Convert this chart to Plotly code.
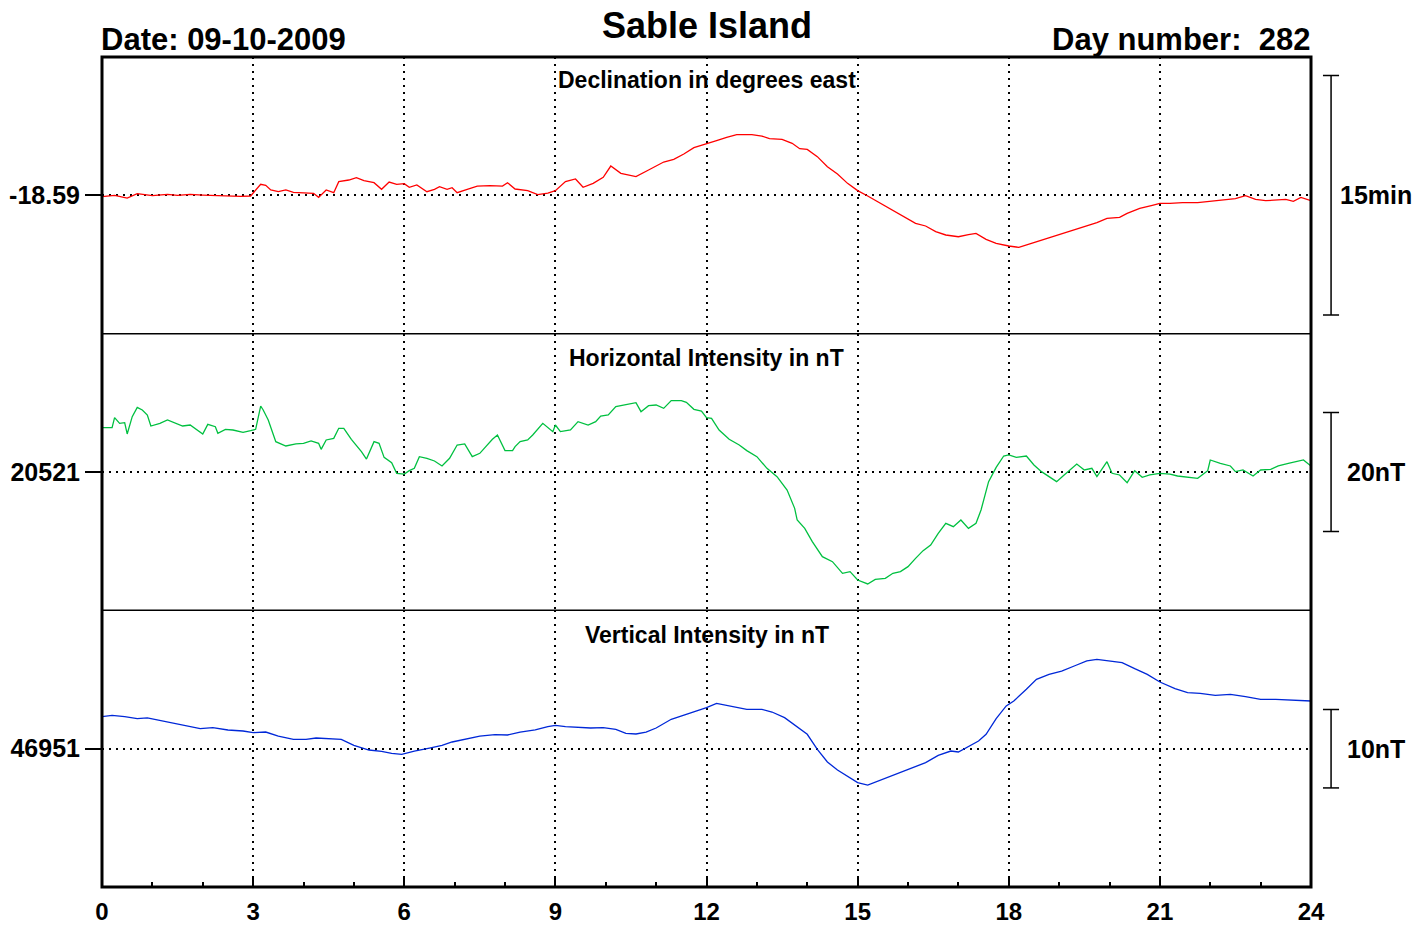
import plotly.graph_objects as go
from plotly.subplots import make_subplots

# ---------------- data ----------------
STATION = "Sable Island"
DATE_TEXT = "Date: 09-10-2009"
DAY_TEXT = "Day number:\u00a0 282"

HOUR_TICKS = [0, 3, 6, 9, 12, 15, 18, 21, 24]

D_BASE = -18.59
D_HOURS = [0.0, 0.25, 0.5, 0.7, 1.0, 1.3, 1.5, 1.75, 2.0, 2.25, 2.5, 2.75, 2.95, 3.05, 3.15, 3.25,
           3.35, 3.5, 3.65, 3.8, 4.0, 4.2, 4.3, 4.45, 4.6, 4.7, 4.9, 5.05, 5.2, 5.4, 5.55, 5.7,
           5.85, 6.0, 6.1, 6.25, 6.45, 6.6, 6.7, 6.85, 6.95, 7.05, 7.25, 7.45, 7.7, 7.95, 8.05,
           8.2, 8.45, 8.65, 8.85, 9.0, 9.2, 9.4, 9.55, 9.75, 9.95, 10.1, 10.3, 10.6, 10.85, 11.15,
           11.35, 11.55, 11.75, 12.0, 12.2, 12.4, 12.6, 12.9, 13.1, 13.25, 13.5, 13.7, 13.85, 14.0,
           14.2, 14.4, 14.6, 14.8, 15.0, 15.2, 15.45, 15.7, 15.9, 16.15, 16.35, 16.55, 16.75, 17.0,
           17.2, 17.35, 17.55, 17.75, 18.0, 18.2, 18.45, 18.7, 18.95, 19.2, 19.45, 19.75, 19.95,
           20.2, 20.35, 20.6, 20.85, 21.0, 21.2, 21.45, 21.75, 22.0, 22.25, 22.5, 22.7, 22.9, 23.1,
           23.3, 23.5, 23.65, 23.8, 24.0]
D_VALUES = [-18.5914, -18.5900, -18.5928, -18.5883, -18.5903, -18.5890, -18.5900, -18.5890,
            -18.5897, -18.5903, -18.5910, -18.5910, -18.5907, -18.5844, -18.5785, -18.5796,
            -18.5844, -18.5862, -18.5844, -18.5869, -18.5872, -18.5879, -18.5921, -18.5844,
            -18.5872, -18.5757, -18.5740, -18.5716, -18.5747, -18.5768, -18.5837, -18.5761,
            -18.5785, -18.5778, -18.5816, -18.5792, -18.5862, -18.5837, -18.5810, -18.5837,
            -18.5820, -18.5872, -18.5837, -18.5803, -18.5799, -18.5803, -18.5768, -18.5834,
            -18.5851, -18.5893, -18.5876, -18.5851, -18.5757, -18.5729, -18.5816, -18.5775,
            -18.5712, -18.5594, -18.5670, -18.5705, -18.5636, -18.5552, -18.5524, -18.5468,
            -18.5402, -18.5357, -18.5329, -18.5294, -18.5267, -18.5267, -18.5281, -18.5308,
            -18.5315, -18.5357, -18.5413, -18.5420, -18.5496, -18.5601, -18.5677, -18.5775,
            -18.5851, -18.5907, -18.5984, -18.6060, -18.6116, -18.6192, -18.6220, -18.6279,
            -18.6314, -18.6332, -18.6311, -18.6297, -18.6359, -18.6401, -18.6429, -18.6443,
            -18.6401, -18.6359, -18.6318, -18.6279, -18.6238, -18.6185, -18.6140, -18.6130,
            -18.6088, -18.6036, -18.6004, -18.5984, -18.5984, -18.5977, -18.5977, -18.5963,
            -18.5956, -18.5935, -18.5903, -18.5942, -18.5956, -18.5949, -18.5942, -18.5963,
            -18.5921, -18.5956]

H_BASE = 20521
H_HOURS = [0.0, 0.2, 0.25, 0.35, 0.45, 0.5, 0.6, 0.7, 0.8, 0.9, 0.97, 1.15, 1.3, 1.45, 1.6, 1.75,
           1.9, 2.0, 2.1, 2.25, 2.3, 2.45, 2.6, 2.8, 2.95, 3.05, 3.15, 3.2, 3.3, 3.45, 3.65, 3.85,
           4.0, 4.15, 4.3, 4.35, 4.45, 4.6, 4.7, 4.8, 4.95, 5.15, 5.25, 5.4, 5.5, 5.6, 5.75, 5.85,
           6.0, 6.1, 6.2, 6.3, 6.45, 6.6, 6.75, 6.9, 7.05, 7.2, 7.35, 7.5, 7.75, 7.85, 8.0, 8.15,
           8.2, 8.3, 8.45, 8.55, 8.75, 8.95, 9.0, 9.1, 9.3, 9.45, 9.65, 9.8, 9.9, 10.05, 10.2,
           10.45, 10.6, 10.7, 10.85, 11.0, 11.15, 11.3, 11.5, 11.6, 11.75, 11.9, 12.0, 12.1, 12.25,
           12.45, 12.65, 12.8, 13.0, 13.2, 13.4, 13.6, 13.75, 13.8, 13.95, 14.1, 14.3, 14.5, 14.7,
           14.85, 15.0, 15.2, 15.35, 15.55, 15.7, 15.85, 16.0, 16.15, 16.3, 16.45, 16.6, 16.75,
           16.9, 17.05, 17.2, 17.35, 17.45, 17.6, 17.75, 17.9, 18.0, 18.15, 18.35, 18.5, 18.65,
           18.8, 18.95, 19.1, 19.25, 19.35, 19.5, 19.65, 19.75, 19.95, 20.05, 20.2, 20.35, 20.5,
           20.65, 20.8, 21.0, 21.2, 21.35, 21.55, 21.75, 21.95, 22.0, 22.2, 22.4, 22.5, 22.65,
           22.85, 23.0, 23.2, 23.35, 23.55, 23.7, 23.85, 24.0]
H_VALUES = [20528.45, 20528.45, 20530.13, 20529.18, 20529.29, 20527.39, 20530.30, 20531.87,
            20531.42, 20530.58, 20528.73, 20529.18, 20529.74, 20529.18, 20528.73, 20528.90,
            20528.06, 20527.39, 20529.01, 20528.62, 20527.50, 20528.17, 20528.06, 20527.67,
            20527.95, 20528.17, 20532.09, 20531.42, 20529.74, 20526.10, 20525.37, 20525.71,
            20525.82, 20526.21, 20525.82, 20524.81, 20526.38, 20526.66, 20528.34, 20528.34,
            20526.49, 20524.42, 20523.18, 20526.10, 20525.82, 20523.46, 20522.57, 20520.78,
            20520.66, 20521.22, 20521.62, 20523.58, 20523.30, 20522.85, 20522.01, 20523.30,
            20525.54, 20525.71, 20523.58, 20524.14, 20526.49, 20527.22, 20524.59, 20524.59,
            20525.26, 20526.10, 20526.38, 20527.22, 20529.18, 20527.78, 20528.90, 20527.78,
            20528.06, 20529.46, 20528.90, 20529.46, 20530.41, 20530.58, 20531.98, 20532.37,
            20532.65, 20531.14, 20532.15, 20532.26, 20531.70, 20532.99, 20532.99, 20532.71,
            20531.53, 20531.25, 20530.13, 20530.02, 20528.06, 20526.49, 20525.54, 20524.59,
            20523.58, 20521.62, 20520.22, 20517.97, 20514.89, 20512.93, 20511.53, 20509.29,
            20506.77, 20505.93, 20503.97, 20504.25, 20502.85, 20502.18, 20502.96, 20503.13,
            20503.97, 20504.25, 20505.09, 20506.49, 20507.78, 20508.73, 20510.69, 20512.37,
            20511.81, 20512.93, 20511.53, 20512.37, 20514.61, 20519.38, 20521.78, 20523.69,
            20523.86, 20523.46, 20523.69, 20522.18, 20521.06, 20520.22, 20519.38, 20520.50,
            20521.62, 20522.34, 20521.34, 20521.62, 20520.22, 20522.74, 20520.78, 20520.50,
            20519.21, 20521.22, 20520.10, 20520.50, 20520.78, 20520.66, 20520.33, 20520.10,
            20519.94, 20521.22, 20523.02, 20522.46, 20522.01, 20521.06, 20521.34, 20520.33,
            20521.34, 20521.45, 20522.01, 20522.46, 20522.74, 20523.02, 20522.01]

Z_BASE = 46951
Z_HOURS = [0.0, 0.2, 0.45, 0.7, 0.9, 1.1, 1.4, 1.7, 1.95, 2.2, 2.5, 2.8, 3.0, 3.25, 3.5, 3.8,
           4.05, 4.25, 4.5, 4.75, 5.0, 5.3, 5.55, 5.75, 5.95, 6.2, 6.5, 6.75, 6.95, 7.2, 7.5, 7.8,
           8.05, 8.3, 8.6, 8.85, 9.0, 9.2, 9.45, 9.7, 9.95, 10.2, 10.4, 10.6, 10.8, 11.0, 11.3,
           11.6, 11.85, 12.0, 12.2, 12.45, 12.8, 13.1, 13.3, 13.55, 13.75, 14.0, 14.2, 14.4, 14.6,
           14.85, 15.0, 15.2, 15.4, 15.6, 15.85, 16.1, 16.35, 16.6, 16.85, 17.0, 17.15, 17.4,
           17.55, 17.75, 17.95, 18.1, 18.35, 18.55, 18.8, 19.05, 19.3, 19.55, 19.75, 20.0, 20.25,
           20.5, 20.75, 21.0, 21.3, 21.55, 21.8, 22.1, 22.4, 22.7, 23.0, 23.3, 23.6, 23.8, 24.0]
Z_VALUES = [46955.08, 46955.25, 46955.08, 46954.82, 46954.91, 46954.65, 46954.31, 46953.89,
            46953.55, 46953.68, 46953.38, 46953.25, 46953.04, 46953.12, 46952.61, 46952.19,
            46952.19, 46952.36, 46952.27, 46952.19, 46951.42, 46950.83, 46950.66, 46950.41,
            46950.28, 46950.70, 46951.08, 46951.42, 46951.85, 46952.19, 46952.61, 46952.78,
            46952.74, 46953.12, 46953.38, 46953.80, 46953.97, 46953.80, 46953.72, 46953.63,
            46953.68, 46953.46, 46952.95, 46952.87, 46953.12, 46953.63, 46954.74, 46955.37,
            46955.88, 46956.22, 46956.77, 46956.44, 46956.01, 46956.01, 46955.67, 46954.95,
            46953.97, 46952.83, 46950.92, 46949.30, 46948.28, 46947.31, 46946.67, 46946.37,
            46946.88, 46947.31, 46947.94, 46948.58, 46949.22, 46950.15, 46950.70, 46950.58,
            46951.13, 46951.98, 46952.83, 46954.82, 46956.44, 46957.07, 46958.56, 46959.83,
            46960.47, 46960.89, 46961.53, 46962.17, 46962.38, 46962.17, 46961.96, 46961.19,
            46960.47, 46959.49, 46958.64, 46958.13, 46958.05, 46957.79, 46957.92, 46957.62,
            46957.28, 46957.28, 46957.16, 46957.07, 46957.07]

PANEL_TITLES = ["Declination in degrees east", "Horizontal Intensity in nT", "Vertical Intensity in nT"]
BASE_LABELS = ["-18.59", "20521", "46951"]
SCALE_LABELS = ["15min", "20nT", "10nT"]
SCALE_SIZES = [0.25, 20, 10]          # degrees, nT, nT
HALF_RANGES = [0.1444, 23.25, 17.62]  # half height of each panel, in panel units

COLORS = ["#ff0000", "#00c040", "#0028d8"]

# ---------------- figure ----------------
FONT = "Liberation Sans, Arial, Helvetica, sans-serif"
fig = make_subplots(rows=3, cols=1, shared_xaxes=True, vertical_spacing=0)

series = [(D_HOURS, D_VALUES, D_BASE), (H_HOURS, H_VALUES, H_BASE), (Z_HOURS, Z_VALUES, Z_BASE)]
for i, (hx, hy, base) in enumerate(series):
    r = i + 1
    fig.add_trace(go.Scatter(x=hx, y=hy, mode="lines",
                             line=dict(color=COLORS[i], width=1.3),
                             showlegend=False, hoverinfo="skip"), row=r, col=1)
    fig.update_yaxes(row=r, col=1,
                     range=[base - HALF_RANGES[i], base + HALF_RANGES[i]],
                     tickvals=[base], ticktext=[BASE_LABELS[i]],
                     ticks="outside", ticklen=16, tickwidth=2, tickcolor="black",
                     tickfont=dict(family=FONT, size=25, color="black", weight="bold"),
                     showgrid=True, gridcolor="black", gridwidth=1.5, griddash="2px,5px",
                     zeroline=False, showline=False, fixedrange=True, automargin=False)
    fig.update_xaxes(row=r, col=1, range=[0, 24], tickvals=HOUR_TICKS,
                     showgrid=True, gridcolor="black", gridwidth=1.5, griddash="2px,5px",
                     zeroline=False, showline=False, automargin=False)

    # scale bar
    yref = "y" if r == 1 else f"y{r}"
    half = SCALE_SIZES[i] / 2
    bx, c0, c1 = 1.0166, 1.0099, 1.0232
    for (x0, y0, x1, y1) in [(bx, base - half, bx, base + half),
                             (c0, base + half, c1, base + half),
                             (c0, base - half, c1, base - half)]:
        fig.add_shape(type="line", xref="paper", yref=yref, x0=x0, y0=y0, x1=x1, y1=y1,
                      line=dict(color="black", width=1.5))
    fig.add_annotation(xref="paper", yref=yref, x=1.0538, y=base, text=SCALE_LABELS[i],
                       showarrow=False, xanchor="center", yanchor="middle",
                       font=dict(family=FONT, size=25, color="black", weight="bold"))

fig.update_xaxes(row=1, col=1, showticklabels=False, ticks="")
fig.update_xaxes(row=2, col=1, showticklabels=False, ticks="")
fig.update_xaxes(row=3, col=1, ticks="inside", ticklen=9, tickwidth=1.5, tickcolor="black",
                 ticktext=[str(h) for h in HOUR_TICKS], ticklabelstandoff=8,
                 tickfont=dict(family=FONT, size=24, color="black", weight="bold"),
                 minor=dict(dtick=1, tick0=0, ticks="inside", ticklen=5, tickwidth=1.5,
                            tickcolor="black", showgrid=False))

# frame and panel separators
fig.add_shape(type="rect", xref="paper", yref="paper", x0=0, y0=0, x1=1, y1=1,
              line=dict(color="black", width=3), layer="above")
for yy in [1 / 3, 2 / 3]:
    fig.add_shape(type="line", xref="paper", yref="paper", x0=0, y0=yy, x1=1, y1=yy,
                  line=dict(color="black", width=1.5), layer="above")

# panel titles
for t, yy in zip(PANEL_TITLES, [0.9723, 0.6373, 0.3036]):
    fig.add_annotation(xref="paper", yref="paper", x=0.5, y=yy, text=t, showarrow=False,
                       xanchor="center", yanchor="middle",
                       font=dict(family=FONT, size=23, color="black", weight="bold"))

# headers
fig.add_annotation(xref="paper", yref="paper", x=0.5, y=1.0374, text=STATION, showarrow=False,
                   xanchor="center", yanchor="middle", borderpad=0,
                   font=dict(family=FONT, size=36, color="black", weight="bold"))
fig.add_annotation(xref="paper", yref="paper", x=0.0, y=1.0205, text=DATE_TEXT, showarrow=False,
                   xanchor="left", yanchor="middle", xshift=-3,
                   font=dict(family=FONT, size=31, color="black", weight="bold"))
fig.add_annotation(xref="paper", yref="paper", x=1.0, y=1.0205, text=DAY_TEXT, showarrow=False,
                   xanchor="right", yanchor="middle", xshift=1,
                   font=dict(family=FONT, size=31, color="black", weight="bold"))

fig.update_layout(width=1427, height=930, margin=dict(l=102, r=116, t=57, b=43, pad=0),
                  paper_bgcolor="white", plot_bgcolor="white", showlegend=False)

# let the figure fill the page exactly (no default body margin, no scrollbars)
fig.write_html("out.html",
               config={"displayModeBar": False},
               post_script="document.body.style.margin='0';"
                           "document.documentElement.style.overflow='hidden';")
